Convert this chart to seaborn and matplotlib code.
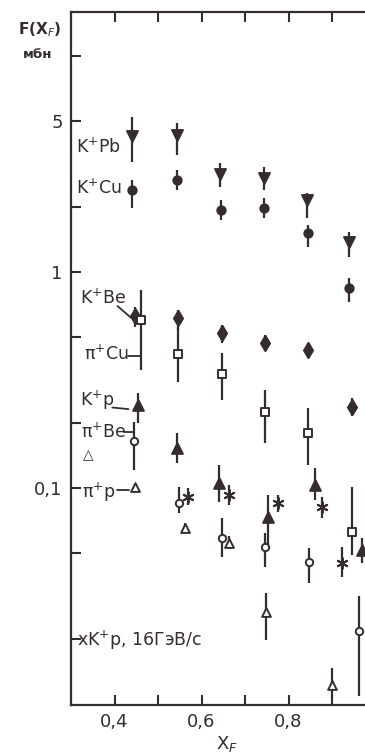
import numpy as np
import matplotlib
matplotlib.use("Agg")
import matplotlib.pyplot as plt
import seaborn as sns

# ── Data ─────────────────────────────────────────────────────────────────────
kpb_x  = [0.441, 0.543, 0.643, 0.743, 0.843, 0.940]
kpb_y  = [4.26, 4.31, 2.84, 2.72, 2.15, 1.38]
kpb_lo = [3.23, 3.48, 2.47, 2.40, 1.78, 1.17]
kpb_hi = [5.22, 4.89, 3.20, 3.06, 2.32, 1.53]

kcu_x  = [0.441, 0.544, 0.645, 0.743, 0.845, 0.940]
kcu_y  = [2.40, 2.67, 1.94, 1.98, 1.52, 0.843]
kcu_lo = [1.98, 2.40, 1.74, 1.78, 1.31, 0.726]
kcu_hi = [2.67, 2.96, 2.15, 2.20, 1.65, 0.938]

kbe_x  = [0.446, 0.545, 0.648, 0.745, 0.844, 0.945]
kbe_y  = [0.626, 0.613, 0.522, 0.469, 0.435, 0.237]
kbe_lo = [0.556, 0.539, 0.469, 0.430, 0.400, 0.216]
kbe_hi = [0.688, 0.667, 0.569, 0.510, 0.470, 0.261]

picu_x  = [0.462, 0.545, 0.646, 0.745, 0.844, 0.945]
picu_y  = [0.600, 0.417, 0.337, 0.225, 0.180, 0.0626]
picu_lo = [0.352, 0.309, 0.256, 0.162, 0.128, 0.049]
picu_hi = [0.825, 0.556, 0.422, 0.284, 0.235, 0.101]

kp_x  = [0.455, 0.543, 0.641, 0.754, 0.860, 0.970]
kp_y  = [0.242, 0.153, 0.105, 0.0734, 0.103, 0.0516]
kp_lo = [0.200, 0.131, 0.0863, 0.0534, 0.088, 0.045]
kp_hi = [0.275, 0.180, 0.128, 0.093, 0.124, 0.059]

pibe_x  = [0.444, 0.549, 0.646, 0.745, 0.848, 0.963]
pibe_y  = [0.165, 0.085, 0.0587, 0.0535, 0.0455, 0.0218]
pibe_lo = [0.121, 0.077, 0.0479, 0.0433, 0.0364, 0.0109]
pibe_hi = [0.202, 0.101, 0.0727, 0.0620, 0.0527, 0.0316]

pip_x  = [0.446, 0.561, 0.664, 0.749, 0.901]
pip_y  = [0.101, 0.0653, 0.0556, 0.0267, 0.01225]
pip_lo = [0.101, 0.062, 0.052, 0.0198, 0.0107]
pip_hi = [0.101, 0.069, 0.060, 0.0326, 0.0147]

kp16_x  = [0.570, 0.664, 0.777, 0.878, 0.924]
kp16_y  = [0.0908, 0.0930, 0.0853, 0.0817, 0.0450]
kp16_lo = [0.0834, 0.0834, 0.0775, 0.0728, 0.0387]
kp16_hi = [0.100, 0.103, 0.093, 0.0908, 0.0534]

x_ticks  = [0.4, 0.5, 0.6, 0.7, 0.8, 0.9]
x_labels = ["0,4", "", "0,6", "", "0,8", ""]
y_ticks  = [10, 5, 2, 1, 0.5, 0.2, 0.1, 0.05, 0.02]
y_labels = ["", "5", "", "1", "", "", "0,1", "", ""]

INK = "#352c33"

# ── Style ────────────────────────────────────────────────────────────────────
sns.set_theme(style="ticks")
plt.rcParams["font.family"] = ["DejaVu Sans"]
plt.rcParams["mathtext.fontset"] = "dejavusans"
plt.rcParams["text.color"] = INK
plt.rcParams["axes.edgecolor"] = INK

W, H = 365, 754
fig = plt.figure(figsize=(W / 100, H / 100), dpi=100)
ax = fig.add_axes([71 / W, 49 / H, 304.5 / W, 693 / H])
ax.set_yscale("log")
ax.set_xlim(0.3, 1.0)
ax.set_ylim(0.0099, 16.0)

# series: (x, y, lo, hi, marker, size, face)
series = [
    (kpb_x, kpb_y, kpb_lo, kpb_hi, "v", 62, INK),
    (kcu_x, kcu_y, kcu_lo, kcu_hi, "o", 36, INK),
    (kbe_x, kbe_y, kbe_lo, kbe_hi, "d", 60, INK),
    (picu_x, picu_y, picu_lo, picu_hi, "s", 28, "white"),
    (kp_x, kp_y, kp_lo, kp_hi, "^", 60, INK),
    (pibe_x, pibe_y, pibe_lo, pibe_hi, "o", 28, "white"),
    (pip_x, pip_y, pip_lo, pip_hi, "^", 40, "white"),
    (kp16_x, kp16_y, kp16_lo, kp16_hi, (6, 2, 0), 60, INK),
]

for x, y, lo, hi, mk, s, face in series:
    ax.vlines(x, lo, hi, color=INK, lw=1.6, zorder=2)
    sns.scatterplot(x=x, y=y, marker=mk, s=s, color=face, edgecolor=INK,
                    linewidth=1.4, ax=ax, zorder=3, legend=False)

# ── Axes cosmetics ───────────────────────────────────────────────────────────
for sp in ax.spines.values():
    sp.set_linewidth(1.6)
ax.set_xticks(x_ticks)
ax.set_xticklabels(x_labels)
ax.set_yticks(y_ticks)
ax.set_yticklabels(y_labels)
ax.minorticks_off()
ax.tick_params(axis="both", direction="in", length=7.5, width=1.5,
               color=INK, labelsize=13, labelcolor=INK,
               top=True, right=True)
ax.tick_params(axis="y", pad=6)
ax.tick_params(axis="x", pad=6)
ax.set_xlabel("")
ax.set_ylabel("")

# inline labels (legend of the original)
fs = 12.5
ax.text(0.312, 3.8, "K$^{+}$Pb", fontsize=fs, va="center", ha="left")
ax.text(0.312, 2.45, "K$^{+}$Cu", fontsize=fs, va="center", ha="left")
ax.text(0.320, 0.76, "K$^{+}$Be", fontsize=fs, va="center", ha="left")
ax.plot([0.407, 0.439], [0.696, 0.612], color=INK, lw=1.3)
ax.text(0.331, 0.417, "π$^{+}$Cu", fontsize=fs, va="center", ha="left")
ax.plot([0.430, 0.460], [0.409, 0.409], color=INK, lw=1.3)
ax.text(0.320, 0.255, "K$^{+}$p", fontsize=fs, va="center", ha="left")
ax.plot([0.395, 0.432], [0.236, 0.232], color=INK, lw=1.3)
ax.text(0.324, 0.182, "π$^{+}$Be", fontsize=fs, va="center", ha="left")
ax.plot([0.421, 0.443], [0.181, 0.181], color=INK, lw=1.3)
ax.text(0.340, 0.142, "△", fontsize=10, va="center", ha="center")
ax.text(0.326, 0.096, "π$^{+}$p", fontsize=fs, va="center", ha="left")
ax.plot([0.405, 0.434], [0.098, 0.098], color=INK, lw=1.3)
ax.text(0.313, 0.0197, "xK$^{+}$p, 16ГэВ/с", fontsize=fs, va="center", ha="left")

# axis titles
fig.text(62 / W, 1 - 30 / H, "F(X$_F$)", fontsize=11, ha="right", va="center",
         fontweight="bold")
fig.text(23 / W, 1 - 54 / H, "мбн", fontsize=9.5, ha="left", va="center",
         fontweight="bold")
fig.text(227 / W, 1 - 744 / H, "X$_F$", fontsize=13, ha="center", va="center")

fig.savefig("out.png", dpi=100)
